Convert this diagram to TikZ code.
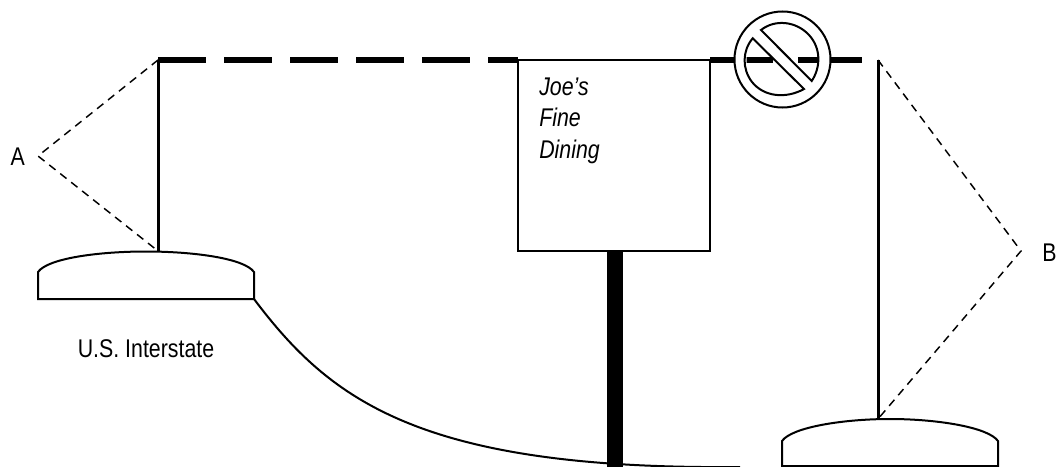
\documentclass[tikz,border=0pt]{standalone}
\usepackage{fontspec}
\setmainfont{Liberation Sans}
\newcommand{\tallfont}[1]{\scalebox{1}[1.2]{#1}}
\tikzset{
  thin line/.style={line width=1.5pt,black},
  post/.style={line width=2.25pt,black},
  sight/.style={line width=1.1pt,black,dash pattern=on 6pt off 4.5pt},
  road/.style={line width=4.5pt,black},
  hump/.style={line width=1.5pt,black,fill=white},
  label/.style={inner sep=0pt,font=\fontsize{16pt}{19pt}\selectfont},
  signtext/.style={inner sep=0pt,anchor=base west,font=\fontsize{16pt}{19pt}\selectfont\itshape}
}
\begin{document}
\begin{tikzpicture}[x=0.75pt,y=-0.75pt]
\useasboundingbox (0,0) rectangle (1057,467);
\clip (0,0) rectangle (1057,467);
% anchors
\coordinate (tl) at (158,60);
\coordinate (bl) at (158,251);
\coordinate (tr) at (878,60);
\coordinate (br) at (878,419);
\coordinate (ta) at (38,156);
\coordinate (tb) at (1021,251);
\coordinate (boxl) at (518,60);
\coordinate (boxr) at (710,60);
\coordinate (boxb) at (614.5,251);
\coordinate (polee) at (614.5,470);
\coordinate (roadend) at (862,60);
\coordinate (gapl) at (773,60);
\coordinate (gapr) at (798,60);
\coordinate (cEnd) at (254,299);
\coordinate (cFar) at (740,467);
% curve
\draw[thin line] (cEnd) .. controls (330,400) and (420,470) .. (cFar);
% posts and sight lines
\draw[post] (tl) -- (bl);
\draw[post] (tr) -- (br);
\draw[sight] (tl) -- (ta) -- (bl);
\draw[sight] (tr) -- (tb) -- (br);
% dashed road
\draw[road,dash pattern=on 36pt off 13.5pt] (tl) -- (boxl);
% box and pole
\draw[thin line,fill=white] (518,60) rectangle (710,251);
\draw[line width=12pt,black] (boxb) -- (polee);
% solid road
\draw[road] (boxr) -- (gapl);
\draw[road] (gapr) -- (roadend);
% no-entry sign
\coordinate (sc) at (782.5,59.5);
\fill[white,even odd rule] (sc) circle[radius=48] (sc) circle[radius=36];
\draw[thin line] (sc) circle[radius=48];
\fill[white] (752.7,38.3) -- (761,30) -- (811.7,81) -- (804,89) -- cycle;
\draw[thin line] (752.7,38.3) -- (804,89) .. controls (786,99) and (764,97) .. (752,82)
  .. controls (742,69) and (742,51) .. (752.7,38.3) -- cycle;
\draw[thin line] (761,30) -- (811.7,81) .. controls (821,67) and (821,48) .. (809,35)
  .. controls (796,21) and (775,19) .. (761,30) -- cycle;
% hills
\draw[hump] (38,299) -- (38,272) .. controls (48,258) and (100,251.5) .. (146,251.5)
  .. controls (192,251.5) and (244,258) .. (254,272) -- (254,299) -- cycle;
\draw[hump] (782,466) -- (782,441) .. controls (792,427) and (844,419) .. (890,419)
  .. controls (936,419) and (988,427) .. (998,441) -- (998,466) -- cycle;
% labels
\node[label] (a) at (17.8,157) {\tallfont{A}};
\node[label] (b) at (1049.5,252.5) {\tallfont{B}};
\node[label] (interstate) at (146,348.5) {\tallfont{U.S. Interstate}};
\node[signtext] (s1) at (539,95) {\tallfont{Joe’s}};
\node[signtext] (s2) at (539,126.5) {\tallfont{Fine}};
\node[signtext] (s3) at (539,158) {\tallfont{Dining}};
\end{tikzpicture}
\end{document}
